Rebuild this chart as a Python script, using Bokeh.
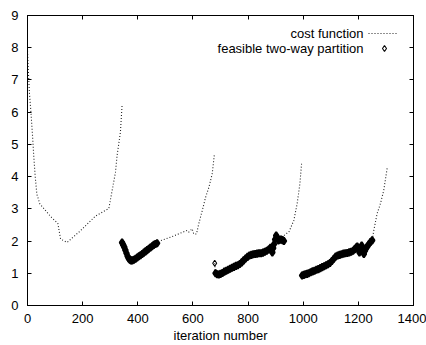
import math
from bokeh.plotting import figure
from bokeh.models import Range1d, LinearAxis, FixedTicker, CustomJSTickFormatter
from bokeh.core.properties import value
from bokeh.embed import file_html
from bokeh.resources import INLINE

# ---------------- data ----------------
x_ticks = [0, 200, 400, 600, 800, 1000, 1200, 1400]
y_ticks = [0, 1, 2, 3, 4, 5, 6, 7, 8, 9]
x_label = "iteration number"
series_names = ["cost function", "feasible two-way partition"]

# cost function, one list pair per run (runs are not joined)
run1_iter = [0, 3, 7, 12, 18, 23, 28, 34, 45, 65, 85, 110, 120, 144, 192, 247, 295, 319, 325, 337, 343]
run1_cost = [7.9, 7.3, 6.6, 6.05, 5.3, 4.6, 4.0, 3.45, 3.15, 2.95, 2.75, 2.55, 2.06, 1.96, 2.32, 2.78, 3.01, 4.13, 4.66, 5.38, 6.21]

run2_iter = [343, 353, 361, 374, 392, 416, 440, 464, 476, 519, 579, 585, 597, 603, 613, 621, 634, 646, 658, 670, 678]
run2_cost = [1.97, 1.78, 1.55, 1.40, 1.45, 1.60, 1.76, 1.91, 1.99, 2.12, 2.33, 2.28, 2.38, 2.22, 2.22, 2.53, 2.95, 3.36, 3.67, 4.09, 4.71]

run3_iter = [679, 682, 694, 718, 742, 767, 785, 803, 827, 851, 869, 881, 888, 893, 902, 912, 921, 930, 942, 948, 966, 978, 988, 994]
run3_cost = [1.31, 1.00, 0.96, 1.07, 1.17, 1.27, 1.42, 1.55, 1.60, 1.63, 1.71, 1.79, 1.65, 1.89, 2.17, 2.02, 2.04, 2.17, 2.25, 2.28, 2.64, 3.16, 3.78, 4.40]

run4_iter = [996, 1020, 1057, 1093, 1117, 1141, 1165, 1184, 1196, 1204, 1214, 1222, 1232, 1244, 1250, 1256, 1268, 1280, 1292, 1305]
run4_cost = [0.93, 1.00, 1.14, 1.31, 1.52, 1.60, 1.65, 1.73, 1.83, 1.65, 1.86, 1.60, 1.83, 1.97, 2.02, 2.33, 2.85, 3.16, 3.57, 4.29]

# feasible two-way partitions
feas1_iter = [343, 347, 351, 355, 359, 363, 367, 371, 375, 380, 386, 392, 398, 404, 410,
              416, 422, 428, 434, 440, 446, 452, 458, 464, 470]
feas1_cost = [1.95, 1.88, 1.81, 1.72, 1.62, 1.53, 1.46, 1.42, 1.40, 1.40, 1.42, 1.45, 1.49, 1.53, 1.56,
              1.60, 1.64, 1.68, 1.72, 1.76, 1.80, 1.84, 1.88, 1.91, 1.93]

feas2_iter = [682, 688, 694, 700, 707, 714, 721, 728, 735, 742, 749, 756, 763, 770,
              777, 784, 791, 798, 805, 812, 819, 826, 833, 840, 847, 854, 861, 868, 875,
              881, 885, 888, 891, 894, 898, 902, 906, 910, 915, 920, 925, 930]
feas2_cost = [1.00, 0.97, 0.96, 0.98, 1.01, 1.05, 1.08, 1.11, 1.14, 1.17, 1.20, 1.23, 1.25, 1.29,
              1.34, 1.40, 1.46, 1.51, 1.55, 1.57, 1.59, 1.60, 1.61, 1.62, 1.62, 1.64, 1.67, 1.70, 1.74,
              1.79, 1.72, 1.65, 1.78, 1.90, 2.05, 2.17, 2.10, 2.02, 2.04, 2.05, 2.03, 2.00]

feas3_iter = [996, 1002, 1008, 1014, 1020, 1027, 1034, 1041, 1048, 1055, 1062, 1069, 1076, 1083, 1090,
              1097, 1104, 1111, 1118, 1125, 1132, 1139, 1146, 1153, 1160, 1167, 1174, 1181, 1187, 1192,
              1196, 1200, 1204, 1208, 1212, 1216, 1220, 1224, 1228, 1232, 1238, 1244, 1250]
feas3_cost = [0.93, 0.95, 0.97, 0.98, 1.00, 1.03, 1.06, 1.08, 1.11, 1.13, 1.16, 1.19, 1.22, 1.25, 1.28,
              1.32, 1.38, 1.45, 1.52, 1.55, 1.57, 1.59, 1.61, 1.62, 1.63, 1.65, 1.67, 1.70, 1.75, 1.80,
              1.83, 1.74, 1.65, 1.76, 1.86, 1.72, 1.60, 1.70, 1.78, 1.83, 1.90, 1.97, 2.02]

# a single isolated feasible partition just before the third run
feas_single_iter = [679]
feas_single_cost = [1.31]

# ---------------- assemble ----------------
cost_x, cost_y = [], []
for xs, ys in [(run1_iter, run1_cost), (run2_iter, run2_cost), (run3_iter, run3_cost), (run4_iter, run4_cost)]:
    if cost_x:
        cost_x.append(math.nan)
        cost_y.append(math.nan)
    cost_x += xs
    cost_y += ys

feas_x = feas1_iter + feas2_iter + feas3_iter
feas_y = feas1_cost + feas2_cost + feas3_cost

FONT = "Liberation Sans"
W, H = 426, 345
ML, MR, MT, MB = 27, 13, 15, 40
FW, FH = W - ML - MR, H - MT - MB

p = figure(width=W, height=H, output_backend="svg", toolbar_location=None,
           x_range=Range1d(0, 1400), y_range=Range1d(0, 9),
           min_border_left=ML, min_border_right=MR, min_border_top=MT, min_border_bottom=MB)
p.background_fill_color = "white"
p.border_fill_color = "white"
p.outline_line_color = "black"
p.outline_line_width = 1
p.grid.visible = False

for ax, ticks in [(p.xaxis[0], x_ticks), (p.yaxis[0], y_ticks)]:
    ax.ticker = FixedTicker(ticks=ticks)
    ax.major_tick_in = 4
    ax.major_tick_out = 0
    ax.minor_tick_line_color = None
    ax.axis_line_color = "black"
    ax.major_tick_line_color = "black"
    ax.major_label_text_font = FONT
    ax.major_label_text_font_size = "13px"
    ax.major_label_text_color = "black"

p.xaxis.major_label_standoff = 8
p.yaxis.major_label_standoff = 9
p.xaxis.axis_label = x_label
p.xaxis.axis_label_text_font = FONT
p.xaxis.axis_label_text_font_size = "13px"
p.xaxis.axis_label_text_font_style = "normal"
p.xaxis.axis_label_text_color = "black"
p.xaxis.axis_label_standoff = 2

blank = CustomJSTickFormatter(code="return ''")
top_ax = LinearAxis(ticker=FixedTicker(ticks=x_ticks), formatter=blank,
                    major_tick_in=4, major_tick_out=0, minor_tick_line_color=None,
                    major_label_standoff=0, axis_line_color="black",
                    major_label_text_font_size="1px")
right_ax = LinearAxis(ticker=FixedTicker(ticks=y_ticks), formatter=blank,
                      major_tick_in=4, major_tick_out=0, minor_tick_line_color=None,
                      major_label_standoff=0, axis_line_color="black",
                      major_label_text_font_size="1px")
p.add_layout(top_ax, "above")
p.add_layout(right_ax, "right")

# cost function (dotted)
p.line(cost_x, cost_y, line_color="#222222", line_width=1.1, line_dash="1 2")

# feasible partitions: dense runs overlap into a solid band
p.scatter(feas_x, feas_y, marker="diamond", size=7, fill_color="black",
          line_color="black", line_width=2)
# isolated one stays an open diamond
p.scatter(feas_single_iter, feas_single_cost, marker="diamond", size=6, fill_color=None,
          line_color="black", line_width=1.1)

# legend in gnuplot style (text right-aligned, sample on the right), frame-pixel coordinates
p.extra_x_ranges = {"leg_x": Range1d(0, FW)}
p.extra_y_ranges = {"leg_y": Range1d(FH, 0)}
leg_text_right = FW - 50
leg_rows = [18, 33]
p.text(x=[leg_text_right] * 2, y=leg_rows, text=series_names,
       text_align="right", text_baseline="middle",
       text_font=value(FONT), text_font_size="13px", text_color="black",
       x_range_name="leg_x", y_range_name="leg_y")
p.line(x=[FW - 45, FW - 15], y=[leg_rows[0]] * 2, line_color="#222222", line_width=1.1,
       line_dash="1 2", x_range_name="leg_x", y_range_name="leg_y")
p.scatter(x=[FW - 29], y=[leg_rows[1]], marker="diamond", size=6, fill_color=None,
          line_color="black", line_width=1.1, x_range_name="leg_x", y_range_name="leg_y")

open("out.html", "w").write(file_html(p, INLINE))
